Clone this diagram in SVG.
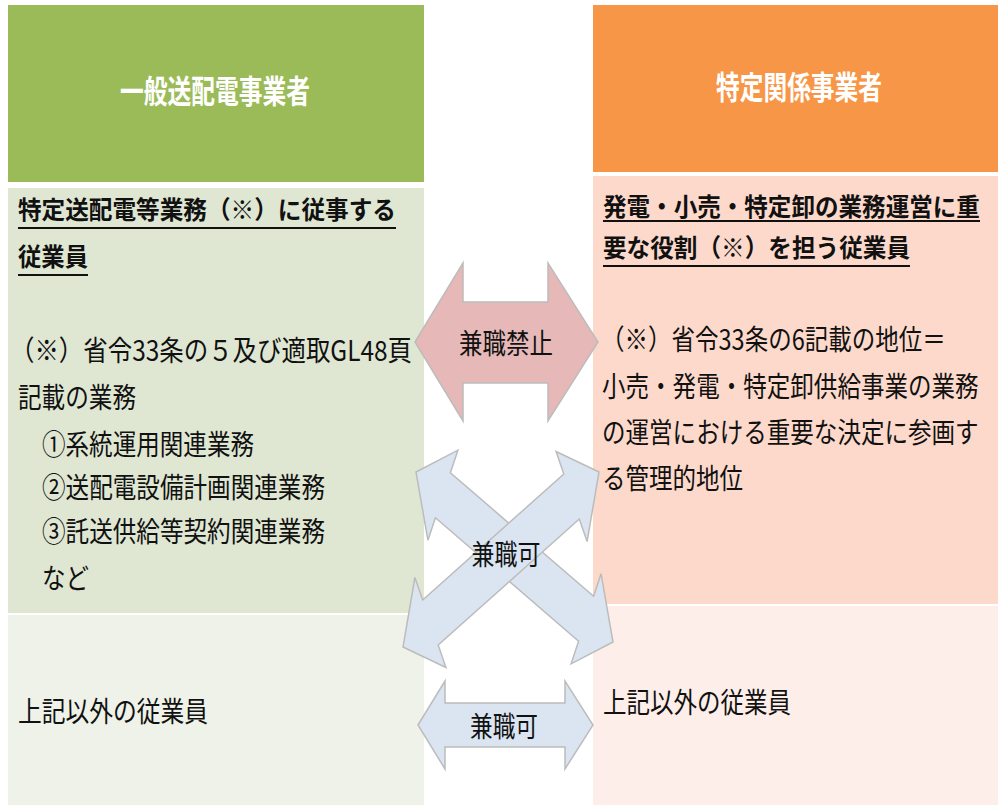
<svg xmlns="http://www.w3.org/2000/svg" width="998" height="805" viewBox="0 0 998 805">
<style>
text{font-family:"Noto Sans CJK JP","Noto Sans CJK SC",sans-serif;fill:#111}
.hd{font-size:32px;font-weight:700;fill:#fff}
.tt{font-size:25px;font-weight:700}
.bd{font-size:28px}
.lb{font-size:28px}
.ul{stroke:#111;stroke-width:2}
.ar{stroke:#bcbcbc;stroke-width:1.5;stroke-linejoin:miter}
.red{fill:#e6b9b8}
.blue{fill:#dbe5f1}
</style>
<rect width="998" height="805" fill="#fff"/>

<g id="left-header">
<rect x="8" y="5" width="416" height="177" fill="#9bbb59"/>
<text class="hd" x="215" y="103" text-anchor="middle" textLength="190" lengthAdjust="spacingAndGlyphs">一般送配電事業者</text>
</g>

<g id="right-header">
<rect x="593" y="5" width="405" height="167" fill="#f79646"/>
<text class="hd" x="799" y="99" text-anchor="middle" textLength="166" lengthAdjust="spacingAndGlyphs">特定関係事業者</text>
</g>

<g id="left-body">
<rect x="8" y="188" width="416" height="425" fill="#dfe7d3"/>
<text class="tt" x="18" y="219" textLength="378" lengthAdjust="spacingAndGlyphs">特定送配電等業務（※）に従事する</text>
<line class="ul" x1="18" y1="228" x2="396" y2="228"/>
<text class="tt" x="18" y="266" textLength="70" lengthAdjust="spacingAndGlyphs">従業員</text>
<line class="ul" x1="18" y1="275" x2="88" y2="275"/>
<text class="bd" x="10" y="361" textLength="402" lengthAdjust="spacingAndGlyphs">（※）省令33条の５及び適取GL48頁</text>
<text class="bd" x="18" y="408" textLength="118" lengthAdjust="spacingAndGlyphs">記載の業務</text>
<text class="bd" x="42" y="455" textLength="212" lengthAdjust="spacingAndGlyphs">①系統運用関連業務</text>
<text class="bd" x="42" y="498" textLength="283" lengthAdjust="spacingAndGlyphs">②送配電設備計画関連業務</text>
<text class="bd" x="42" y="542" textLength="283" lengthAdjust="spacingAndGlyphs">③託送供給等契約関連業務</text>
<text class="bd" x="42" y="589" textLength="47" lengthAdjust="spacingAndGlyphs">など</text>
</g>

<g id="left-other">
<rect x="8" y="615" width="416" height="190" fill="#eef2e8"/>
<text class="bd" x="18" y="722" textLength="190" lengthAdjust="spacingAndGlyphs">上記以外の従業員</text>
</g>

<g id="right-body">
<rect x="593" y="176" width="405" height="428" fill="#fcd9cb"/>
<text class="tt" transform="matrix(0.9425,0,0,1,603,216)">発電・小売・特定卸の業務運営に重</text>
<line class="ul" x1="603" y1="221" x2="980" y2="221"/>
<text class="tt" transform="matrix(0.945,0,0,1,603,257)">要な役割（※）を担う従業員</text>
<line class="ul" x1="603" y1="266" x2="910" y2="266"/>
<text class="bd" transform="matrix(0.84,0,0,1,601,350)">（※）省令33条の6記載の地位＝</text>
<text class="bd" transform="matrix(0.841,0,0,1,602,397)">小売・発電・特定卸供給事業の業務</text>
<text class="bd" transform="matrix(0.841,0,0,1,602,443)">の運営における重要な決定に参画す</text>
<text class="bd" transform="matrix(0.84,0,0,1,602,489)">る管理的地位</text>
</g>

<g id="right-other">
<rect x="593" y="606" width="405" height="199" fill="#fdeee9"/>
<text class="bd" transform="matrix(0.84,0,0,1,603,713)">上記以外の従業員</text>
</g>

<g id="connectors">
<g id="arrow-prohibited">
<polygon class="ar red" points="415,342 463,263 463,302 548,302 548,263 598,342 548,421 548,383 463,383 463,421"/>
<text class="lb" x="506" y="354" text-anchor="middle" textLength="94" lengthAdjust="spacingAndGlyphs">兼職禁止</text>
</g>
<g id="arrow-cross">
<polygon class="ar blue" points="416,472 457.9,450.2 450.4,472.7 593.6,596.3 601.1,573.8 613,642 571.1,663.8 578.6,641.3 435.4,517.7 427.9,540.2"/>
<polygon class="ar blue" points="599,472 556.1,451.5 563.8,474 422.7,600 414.9,577.5 403,647 445.9,667.5 438.2,645 579.3,519 587.1,541.5"/>
<text class="lb" x="506" y="565" text-anchor="middle" textLength="69" lengthAdjust="spacingAndGlyphs">兼職可</text>
</g>
<g id="arrow-other">
<polygon class="ar blue" points="418,725 445,681 445,703 565,703 565,681 593,725 565,769 565,747 445,747 445,769"/>
<text class="lb" x="504" y="737" text-anchor="middle" textLength="68" lengthAdjust="spacingAndGlyphs">兼職可</text>
</g>
</g>
</svg>
